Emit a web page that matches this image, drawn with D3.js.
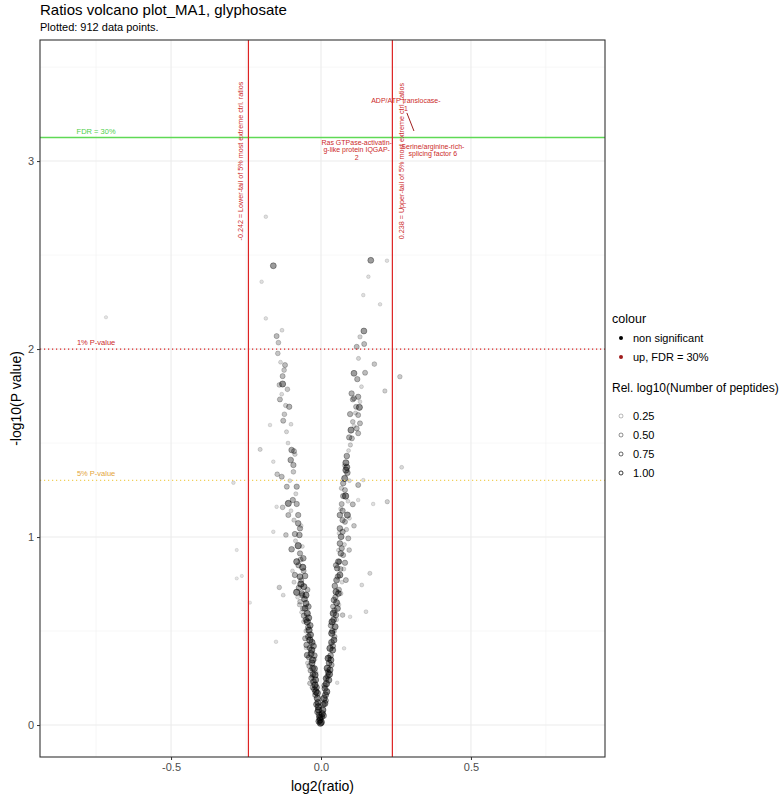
<!DOCTYPE html>
<html>
<head>
<meta charset="utf-8">
<script src="https://cdn.jsdelivr.net/npm/d3@7"></script>
<style>
  body { margin: 0; background: #fff; }
  text { font-family: "Liberation Sans", Arial, sans-serif; }
</style>
</head>
<body>
<svg id="volcano" width="784" height="795"></svg>
<script>
// Volcano plot of log2 ratios against -log10(P value), drawn with D3.

// ---------------------------------------------------------------------------------------
// Data: [log2(ratio), -log10(P value), rel. log10(Number of peptides)]

const leftArm = [
  [-0.002,0.01,1],[-0.003,0.027,0.9],[-0.004,0.04,1],[-0.006,0.053,0.8],[-0.007,0.02,0.9],
  [-0.008,0.08,1],[-0.012,0.07,0.7],[-0.009,0.097,1],[-0.015,0.11,0.8],[-0.01,0.12,0.9],
  [-0.012,0.142,1],[-0.019,0.16,0.6],[-0.012,0.17,0.9],[-0.017,0.177,1],[-0.022,0.19,0.7],
  [-0.015,0.2,0.8],[-0.028,0.2,0.5],[-0.02,0.213,1],[-0.037,0.222,0.4],[-0.025,0.23,0.8],
  [-0.018,0.24,0.9],[-0.032,0.25,0.6],[-0.02,0.266,1],[-0.027,0.27,0.7],[-0.035,0.29,0.5],
  [-0.022,0.3,0.9],[-0.028,0.302,0.8],[-0.039,0.314,0.5],[-0.03,0.33,0.9],[-0.028,0.346,1],
  [-0.04,0.36,0.6],[-0.022,0.37,0.7],[-0.046,0.372,0.8],[-0.033,0.38,0.9],[-0.031,0.399,1],
  [-0.038,0.41,0.6],[-0.025,0.42,0.8],[-0.048,0.426,0.7],[-0.03,0.44,0.9],[-0.037,0.452,1],
  [-0.053,0.461,0.5],[-0.042,0.47,0.8],[-0.035,0.48,0.9],[-0.04,0.505,1],[-0.043,0.52,0.6],
  [-0.036,0.53,0.8],[-0.046,0.549,1],[-0.05,0.56,0.7],[-0.041,0.57,0.9],[-0.057,0.581,0.6],
  [-0.046,0.594,1],[-0.053,0.621,0.8],[-0.06,0.62,0.5],[-0.042,0.63,0.7],[-0.05,0.647,0.9],
  [-0.07,0.656,0.4],[-0.055,0.67,0.8],[-0.062,0.69,0.6],[-0.05,0.691,0.9],[-0.064,0.7,0.7],
  [-0.081,0.706,1],[-0.045,0.72,0.5],[-0.074,0.73,0.6],[-0.057,0.736,0.9],[-0.067,0.75,1],
  [-0.066,0.77,0.5],[-0.07,0.789,0.8],[-0.053,0.793,0.7],[-0.087,0.798,0.6],[-0.058,0.82,0.5],
  [-0.061,0.839,1],[-0.075,0.85,0.6],[-0.081,0.869,0.9],[-0.068,0.88,0.5],[-0.059,0.887,0.7],
  [-0.07,0.913,0.6],[-0.098,0.935,0.7],[-0.076,0.954,1],[-0.087,1.016,0.6],[-0.072,1.011,0.7],
  [-0.117,1.011,0.4],[-0.07,1.046,0.6],[-0.076,1.073,0.7],[-0.109,1.117,0.5],[-0.076,1.117,0.6],
  [-0.128,1.158,0.4],[-0.081,1.176,0.6],[-0.109,1.179,0.9],[-0.094,1.197,0.6],[-0.114,1.268,0.5],
  [-0.081,1.268,0.6],[-0.131,1.321,0.5],[-0.146,1.334,0.4],[-0.092,1.347,0.4],[-0.092,1.383,0.6],
  [-0.101,1.41,0.7],[-0.09,1.457,0.5],[-0.098,1.463,0.7],[-0.126,1.619,0.5],[-0.122,1.653,0.4],
  [-0.106,1.693,0.6],[-0.137,1.732,0.5],[-0.112,1.786,0.4],[-0.139,1.809,0.4],[-0.128,1.814,0.9],
  [-0.128,1.856,0.5],[-0.123,1.888,0.4],[-0.12,1.915,0.5],[-0.144,1.977,0.4],[-0.142,2.034,0.4],
  [-0.148,2.069,0.5],[-0.159,2.443,0.8],
  [-0.062,0.95,0.2],[-0.085,0.98,0.25],[-0.066,1.06,0.2],[-0.09,1.09,0.3],[-0.1,1.14,0.2],
  [-0.084,1.23,0.25],[-0.104,1.3,0.2],[-0.087,1.44,0.3],[-0.11,1.5,0.2],[-0.115,1.56,0.25],
  [-0.1,1.6,0.2],[-0.118,1.7,0.3],[-0.131,1.76,0.2],[-0.135,1.93,0.2],[-0.13,2.1,0.2],
  [-0.05,0.5,0.3],[-0.058,0.55,0.25],[-0.065,0.6,0.2],[-0.072,0.64,0.3],[-0.078,0.68,0.2],
  [-0.09,0.76,0.25],[-0.095,0.82,0.2],[-0.03,0.26,0.3],[-0.045,0.33,0.25],[-0.05,0.41,0.2],
  [-0.016,0.28,0.2],[-0.02,0.35,0.2]
];

const rightArm = [
  [0.001,0.015,1],[0.002,0.044,0.9],[0.004,0.06,1],[0.009,0.05,0.7],[0.006,0.08,1],
  [0.008,0.11,0.8],[0.013,0.115,0.9],[0.01,0.142,1],[0.016,0.13,0.6],[0.015,0.16,0.9],
  [0.019,0.177,1],[0.013,0.195,0.8],[0.012,0.21,0.7],[0.018,0.22,1],[0.026,0.239,0.9],
  [0.017,0.248,0.8],[0.022,0.26,0.6],[0.028,0.27,1],[0.024,0.28,0.7],[0.03,0.293,0.9],
  [0.021,0.302,1],[0.035,0.32,0.6],[0.027,0.33,0.8],[0.033,0.346,0.9],[0.024,0.355,1],
  [0.032,0.37,0.7],[0.039,0.399,0.9],[0.03,0.408,1],[0.04,0.42,0.6],[0.035,0.44,0.8],
  [0.043,0.452,0.9],[0.045,0.47,0.5],[0.036,0.488,1],[0.038,0.5,0.7],[0.047,0.523,0.9],
  [0.033,0.53,0.6],[0.037,0.549,1],[0.042,0.56,0.8],[0.05,0.585,0.7],[0.041,0.594,1],
  [0.072,0.585,0.4],[0.045,0.61,0.6],[0.055,0.62,0.8],[0.04,0.63,0.5],[0.052,0.651,0.9],
  [0.043,0.665,0.7],[0.048,0.68,0.6],[0.058,0.7,0.8],[0.05,0.709,0.9],[0.06,0.72,0.5],
  [0.046,0.74,0.7],[0.052,0.771,0.8],[0.083,0.771,0.5],[0.056,0.79,0.6],[0.063,0.798,0.9],
  [0.065,0.83,0.5],[0.054,0.834,0.7],[0.05,0.85,0.6],[0.058,0.869,0.8],[0.061,0.869,0.5],
  [0.08,0.863,0.6],[0.074,0.904,0.5],[0.066,0.913,0.7],[0.094,0.931,0.4],[0.069,0.94,0.6],
  [0.063,0.966,0.7],[0.091,0.993,0.5],[0.067,1.002,0.8],[0.072,1.028,0.6],[0.063,1.046,0.7],
  [0.11,1.06,0.4],[0.08,1.081,0.5],[0.072,1.09,0.6],[0.063,1.117,0.7],[0.088,1.117,0.9],
  [0.072,1.14,0.6],[0.069,1.176,0.5],[0.106,1.174,0.5],[0.082,1.218,1],[0.074,1.218,0.6],
  [0.08,1.25,0.5],[0.124,1.277,0.5],[0.074,1.286,0.6],[0.079,1.312,0.9],[0.088,1.342,0.7],
  [0.083,1.356,0.9],[0.086,1.371,0.9],[0.083,1.395,0.9],[0.086,1.431,0.7],[0.103,1.525,0.5],
  [0.094,1.53,0.6],[0.124,1.552,0.5],[0.1,1.569,0.9],[0.119,1.578,0.5],[0.13,1.605,0.5],
  [0.106,1.613,0.4],[0.124,1.649,0.5],[0.097,1.654,0.6],[0.117,1.693,0.5],[0.128,1.69,0.9],
  [0.11,1.738,0.5],[0.124,1.746,0.6],[0.106,1.732,0.5],[0.102,1.764,0.6],[0.121,1.84,0.6],
  [0.11,1.871,0.8],[0.147,1.874,0.5],[0.178,1.92,0.4],[0.119,2.012,0.5],[0.144,2.027,0.5],
  [0.13,2.065,0.3],[0.143,2.096,0.8],[0.166,2.472,0.8],
  [0.058,0.93,0.2],[0.078,0.96,0.25],[0.06,1.02,0.2],[0.085,1.04,0.3],[0.095,1.1,0.2],
  [0.066,1.15,0.25],[0.09,1.19,0.2],[0.068,1.26,0.3],[0.095,1.3,0.2],[0.078,1.38,0.25],
  [0.092,1.46,0.2],[0.098,1.49,0.3],[0.11,1.59,0.2],[0.115,1.66,0.25],[0.13,1.72,0.2],
  [0.135,1.8,0.2],[0.125,1.95,0.25],[0.045,0.5,0.3],[0.052,0.56,0.25],[0.06,0.64,0.2],
  [0.066,0.7,0.3],[0.07,0.76,0.2],[0.076,0.83,0.25],[0.026,0.36,0.3],[0.032,0.43,0.2],
  [0.02,0.29,0.25],[0.015,0.25,0.2]
];

const scattered = [
  [-0.717,2.169,0.1],[-0.184,2.704,0.15],[-0.198,2.358,0.15],[-0.184,2.163,0.15],
  [0.22,2.47,0.15],[0.158,2.385,0.15],[0.141,2.287,0.15],[0.197,2.238,0.15],
  [0.213,1.777,0.3],[0.263,1.853,0.35],[0.269,1.371,0.2],[0.221,1.188,0.3],
  [0.174,1.176,0.15],[0.163,0.807,0.25],[0.124,1.197,0.15],[0.141,1.303,0.15],
  [-0.281,0.931,0.1],[-0.203,1.466,0.25],[-0.159,1.401,0.15],[-0.292,1.289,0.15],
  [-0.17,1.596,0.15],[-0.148,1.161,0.15],[-0.159,1.028,0.15],[-0.281,0.78,0.1],
  [-0.264,0.793,0.1],[-0.237,0.651,0.1],[-0.139,0.732,0.35],[-0.126,0.691,0.2],
  [0.136,0.745,0.2],[0.15,0.603,0.2],[-0.15,0.443,0.15],[0.054,0.225,0.15],
  [0.077,0.408,0.15],[0.097,0.576,0.15]
];

const tailCutoffs = [-0.242, 0.238];
const tailLabels = ["-0.242 = Lower-tail of 5% most extreme ctrl. ratios",
                    "0.238 = Upper-tail of 5% most extreme ctrl. ratios"];

const pValueLines = [2, 1.30103];
const pValueLabels = ["1% P-value", "5% P-value"];
const fdrLine = 3.125;

const geneLabels = [
  { lines: ["ADP/ATP translocase-", "1"], x: 0.283, y: 3.32, px: 0.31, py: 3.16 },
  { lines: ["Ras GTPase-activatin-", "g-like protein IQGAP-", "2"], x: 0.119, y: 3.10 },
  { lines: ["Serine/arginine-rich-", "splicing factor 6"], x: 0.373, y: 3.08 }
];

const xTicks = [-0.5, 0, 0.5];
const xMinor = [-0.75, -0.25, 0.25, 0.75];
const yTicks = [0, 1, 2, 3];
const yMinor = [0.5, 1.5, 2.5, 3.5];

const colourLegend = ["non significant", "up, FDR = 30%"];
const sizeLegend = [0.25, 0.5, 0.75, 1.0];

// ---------------------------------------------------------------------------------------

const svg = d3.select("#volcano");
const panel = { left: 40, right: 605, top: 40, bottom: 757 };

const xScale = d3.scaleLinear().domain([-0.937, 0.947]).range([panel.left, panel.right]);
const yScale = d3.scaleLinear().domain([-0.17, 3.644]).range([panel.bottom, panel.top]);
const alphaScale = d3.scaleLinear().domain([0, 1]).range([0.12, 0.85]);
const radiusScale = d3.scaleSqrt().domain([0, 1]).range([1.0, 3.2]);

const red = "#dd2222";
const labelRed = "#cc2a2a";

// Title and subtitle
svg.append("text").attr("x", 40).attr("y", 15)
  .attr("font-size", 15).text("Ratios volcano plot_MA1, glyphosate");
svg.append("text").attr("x", 40).attr("y", 31)
  .attr("font-size", 11).text("Plotted: 912 data points.");

// Grid lines
const grid = svg.append("g");
grid.selectAll(".xminor").data(xMinor).enter().append("line")
  .attr("x1", d => xScale(d)).attr("x2", d => xScale(d))
  .attr("y1", panel.top).attr("y2", panel.bottom)
  .attr("stroke", "#f2f2f2").attr("stroke-width", 0.6);
grid.selectAll(".yminor").data(yMinor).enter().append("line")
  .attr("y1", d => yScale(d)).attr("y2", d => yScale(d))
  .attr("x1", panel.left).attr("x2", panel.right)
  .attr("stroke", "#f2f2f2").attr("stroke-width", 0.6);
grid.selectAll(".xmajor").data(xTicks).enter().append("line")
  .attr("x1", d => xScale(d)).attr("x2", d => xScale(d))
  .attr("y1", panel.top).attr("y2", panel.bottom)
  .attr("stroke", "#ebebeb").attr("stroke-width", 1.1);
grid.selectAll(".ymajor").data(yTicks).enter().append("line")
  .attr("y1", d => yScale(d)).attr("y2", d => yScale(d))
  .attr("x1", panel.left).attr("x2", panel.right)
  .attr("stroke", "#ebebeb").attr("stroke-width", 1.1);

// Points
const allPoints = leftArm.concat(rightArm, scattered);
svg.append("g").selectAll("circle")
  .data(allPoints)
  .enter().append("circle")
  .attr("cx", d => xScale(d[0]))
  .attr("cy", d => yScale(d[1]))
  .attr("r", d => radiusScale(d[2]))
  .attr("fill", "#000")
  .attr("fill-opacity", d => alphaScale(d[2]) * 0.55)
  .attr("stroke", "#000")
  .attr("stroke-opacity", d => alphaScale(d[2]) * 0.8)
  .attr("stroke-width", 0.6);

// P-value lines (dotted)
const pColours = [red, "#f0cf5a"];
const pTextColours = [labelRed, "#e3a53a"];
pValueLines.forEach((v, i) => {
  svg.append("line")
    .attr("x1", panel.left).attr("x2", panel.right)
    .attr("y1", yScale(v)).attr("y2", yScale(v))
    .attr("stroke", pColours[i]).attr("stroke-width", 1.2)
    .attr("stroke-dasharray", "1.2,2.8");
  svg.append("text")
    .attr("x", xScale(-0.75)).attr("y", yScale(v) - 4)
    .attr("text-anchor", "middle").attr("font-size", 7.5)
    .attr("fill", pTextColours[i]).text(pValueLabels[i]);
});

// FDR line
svg.append("line")
  .attr("x1", panel.left).attr("x2", panel.right)
  .attr("y1", yScale(fdrLine)).attr("y2", yScale(fdrLine))
  .attr("stroke", "#5fd956").attr("stroke-width", 1.4);
svg.append("text")
  .attr("x", xScale(-0.75)).attr("y", yScale(fdrLine) - 4)
  .attr("text-anchor", "middle").attr("font-size", 7.5)
  .attr("fill", "#4fcf4a").text("FDR = 30%");

// Tail cut-off lines with their vertical labels
tailCutoffs.forEach((v, i) => {
  svg.append("line")
    .attr("x1", xScale(v)).attr("x2", xScale(v))
    .attr("y1", panel.top).attr("y2", panel.bottom)
    .attr("stroke", red).attr("stroke-width", 1.2);
  const tx = i === 0 ? xScale(v) - 5 : xScale(v) + 12;
  svg.append("text")
    .attr("transform", `translate(${tx},${yScale(3)}) rotate(-90)`)
    .attr("text-anchor", "middle").attr("font-size", 7.2)
    .attr("fill", labelRed).text(tailLabels[i]);
});

// Gene labels
geneLabels.forEach(g => {
  const t = svg.append("text")
    .attr("text-anchor", "middle").attr("font-size", 7)
    .attr("fill", labelRed);
  g.lines.forEach((line, j) => {
    t.append("tspan").attr("x", xScale(g.x))
      .attr("y", yScale(g.y) + 2.5 + j * 7.7).text(line);
  });
  if (g.px !== undefined) {
    svg.append("line")
      .attr("x1", xScale(g.x) + 1).attr("y1", yScale(g.y) + 12)
      .attr("x2", xScale(g.px)).attr("y2", yScale(g.py))
      .attr("stroke", "#a02020").attr("stroke-width", 1);
  }
});

// Panel border
svg.append("rect")
  .attr("x", panel.left).attr("y", panel.top)
  .attr("width", panel.right - panel.left).attr("height", panel.bottom - panel.top)
  .attr("fill", "none").attr("stroke", "#333").attr("stroke-width", 1.1);

// Axes
const xAxis = svg.append("g")
  .attr("transform", `translate(0,${panel.bottom})`)
  .call(d3.axisBottom(xScale).tickValues(xTicks).tickSize(3).tickPadding(3)
    .tickFormat(d => d.toFixed(1)));
const yAxis = svg.append("g")
  .attr("transform", `translate(${panel.left},0)`)
  .call(d3.axisLeft(yScale).tickValues(yTicks).tickSize(3).tickPadding(3)
    .tickFormat(d3.format("d")));
[xAxis, yAxis].forEach(a => {
  a.select(".domain").remove();
  a.selectAll("line").attr("stroke", "#333");
  a.selectAll("text").attr("fill", "#4d4d4d").attr("font-size", 11)
    .attr("font-family", "Liberation Sans, Arial, sans-serif");
});

// Axis titles
svg.append("text")
  .attr("x", (panel.left + panel.right) / 2).attr("y", 791)
  .attr("text-anchor", "middle").attr("font-size", 14).text("log2(ratio)");
svg.append("text")
  .attr("transform", `translate(21,${(panel.top + panel.bottom) / 2}) rotate(-90)`)
  .attr("text-anchor", "middle").attr("font-size", 14).text("-log10(P value)");

// Legends
const legend = svg.append("g");
legend.append("text").attr("x", 612).attr("y", 323)
  .attr("font-size", 12.5).text("colour");
colourLegend.forEach((lab, i) => {
  legend.append("circle").attr("cx", 621).attr("cy", 338 + i * 19).attr("r", 2)
    .attr("fill", i === 0 ? "#000" : "#a01c1c");
  legend.append("text").attr("x", 633).attr("y", 342 + i * 19)
    .attr("font-size", 11).text(lab);
});
legend.append("text").attr("x", 612).attr("y", 392)
  .attr("font-size", 12).text("Rel. log10(Number of peptides)");
sizeLegend.forEach((v, i) => {
  legend.append("circle").attr("cx", 621).attr("cy", 416 + i * 19).attr("r", 2)
    .attr("fill", "none").attr("stroke", "#000")
    .attr("stroke-opacity", alphaScale(v)).attr("stroke-width", 0.9);
  legend.append("text").attr("x", 633).attr("y", 420 + i * 19)
    .attr("font-size", 11).text(v.toFixed(2));
});
</script>
</body>
</html>
